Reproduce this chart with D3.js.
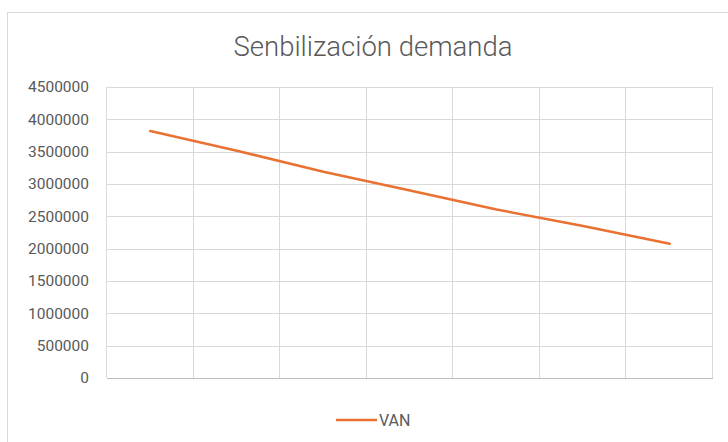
<!DOCTYPE html>
<html>
<head>
<meta charset="utf-8">
<script src="https://cdn.jsdelivr.net/npm/d3@7"></script>
<style>
  body { margin: 0; background: #fff; }
  text { font-family: Roboto, "Liberation Sans", sans-serif; fill: #595959; }
</style>
</head>
<body>
<svg class="chart"></svg>
<script>
// data
var categories = ["1", "2", "3", "4", "5", "6", "7"];
var van = [3820000, 3515000, 3190000, 2900000, 2605000, 2350000, 2075000];
var yTicks = [0, 500000, 1000000, 1500000, 2000000, 2500000, 3000000, 3500000, 4000000, 4500000];

var width = 728,
    height = 442;

var margin = {top: 87, right: 15, bottom: 64, left: 107};

var svg = d3.select(".chart")
    .attr("width", width)
    .attr("height", height);

// chart border (only top and left are visible in the window)
svg.append("rect")
    .attr("x", 7.5)
    .attr("y", 12.5)
    .attr("width", 740)
    .attr("height", 460)
    .attr("fill", "none")
    .attr("stroke", "#d9d9d9");

svg.append("text")
    .attr("x", 373)
    .attr("y", 56)
    .attr("text-anchor", "middle")
    .style("font-size", "27.5px")
    .style("font-weight", "300")
    .text("Senbilización demanda");

var x = d3.scaleBand()
    .domain(categories)
    .range([margin.left, width - margin.right]);

var y = d3.scaleLinear()
    .domain([0, 4500000])
    .range([height - margin.bottom, margin.top]);

// horizontal gridlines
svg.append("g")
    .selectAll("line")
    .data(yTicks.slice(1))
    .enter().append("line")
    .attr("x1", margin.left)
    .attr("x2", width - margin.right)
    .attr("y1", function(d) { return Math.round(y(d)) + 0.5; })
    .attr("y2", function(d) { return Math.round(y(d)) + 0.5; })
    .attr("stroke", "#d9d9d9");

// vertical gridlines at category edges
var edges = categories.map(function(c) { return x(c); }).concat([x.range()[1]]);
svg.append("g")
    .selectAll("line")
    .data(edges)
    .enter().append("line")
    .attr("x1", function(d) { return Math.round(d) - 0.5; })
    .attr("x2", function(d) { return Math.round(d) - 0.5; })
    .attr("y1", margin.top)
    .attr("y2", height - margin.bottom)
    .attr("stroke", "#d9d9d9");

// bottom axis line
svg.append("line")
    .attr("x1", margin.left)
    .attr("x2", width - margin.right)
    .attr("y1", Math.round(y(0)) + 0.5)
    .attr("y2", Math.round(y(0)) + 0.5)
    .attr("stroke", "#bfbfbf");

// y tick labels
svg.append("g")
    .selectAll("text")
    .data(yTicks)
    .enter().append("text")
    .attr("x", 89)
    .attr("y", function(d) { return y(d); })
    .attr("dy", "0.35em")
    .attr("text-anchor", "end")
    .style("font-size", "15.5px")
    .text(function(d) { return d; });

// the line
var line = d3.line()
    .x(function(d, i) { return x(categories[i]) + x.bandwidth() / 2; })
    .y(function(d) { return y(d); });

svg.append("path")
    .datum(van)
    .attr("d", line)
    .attr("fill", "none")
    .attr("stroke", "#E97132")
    .attr("stroke-width", 2.5)
    .attr("stroke-linecap", "round");

// legend
svg.append("line")
    .attr("x1", 336)
    .attr("x2", 377)
    .attr("y1", 420)
    .attr("y2", 420)
    .attr("stroke", "#E97132")
    .attr("stroke-width", 2.5);

svg.append("text")
    .attr("x", 379)
    .attr("y", 420)
    .attr("dy", "0.35em")
    .style("font-size", "16px")
    .text("VAN");
</script>
</body>
</html>
